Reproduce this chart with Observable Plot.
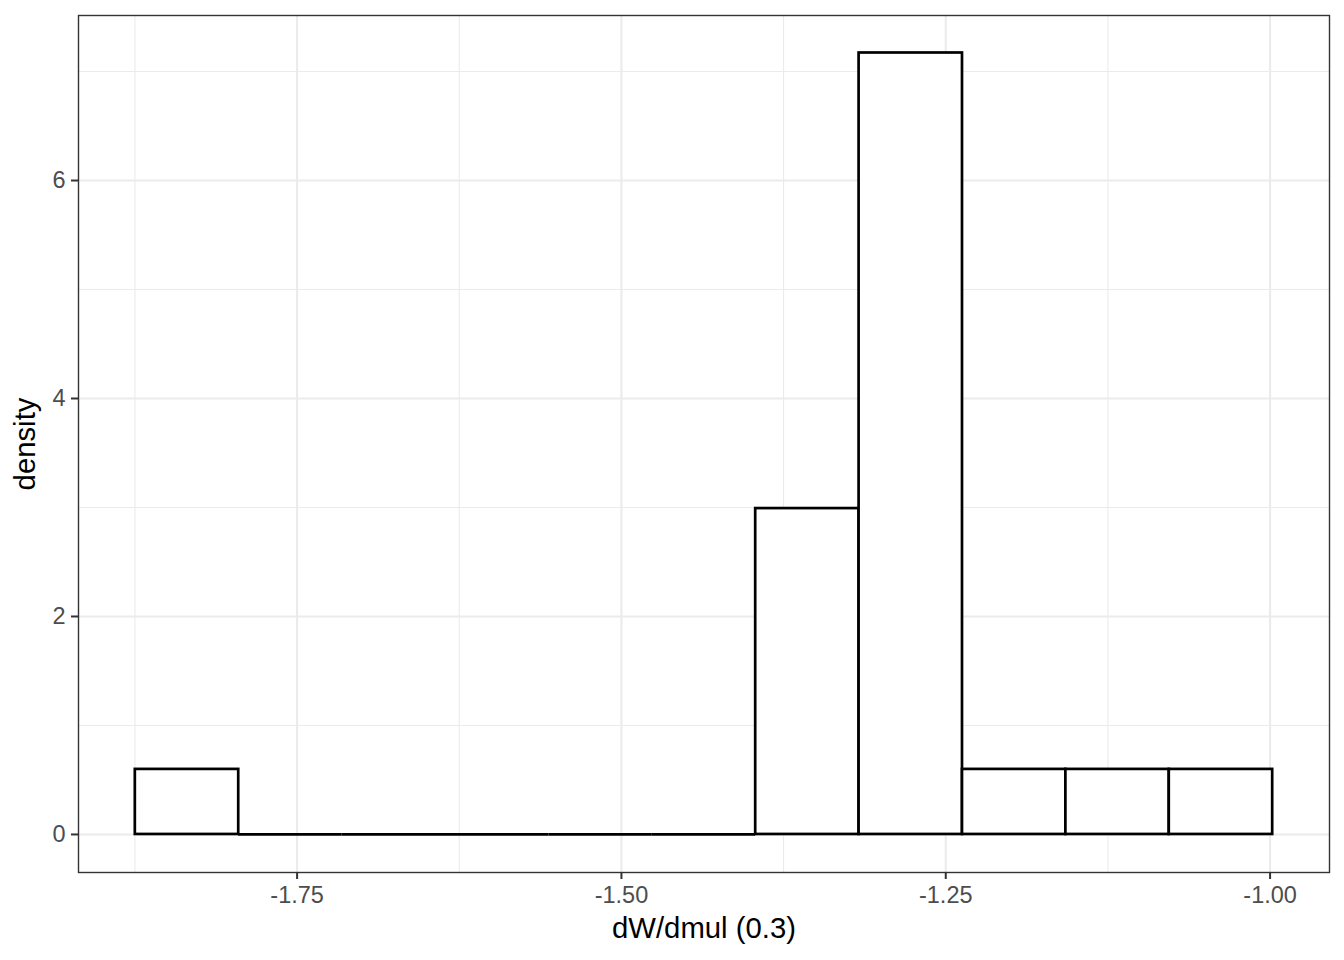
<!DOCTYPE html>
<html>
<head>
<meta charset="utf-8">
<script src="https://cdn.jsdelivr.net/npm/d3@7"></script>
<script src="https://cdn.jsdelivr.net/npm/@observablehq/plot@0.6"></script>
<style>
  html, body { margin: 0; padding: 0; background: #ffffff; }
  #chart { width: 1344px; height: 960px; }
</style>
</head>
<body>
<div id="chart"></div>
<script>
// ---- data ----
const binEdges = [-1.8747, -1.7950, -1.7153, -1.6356, -1.5559, -1.4762, -1.3965, -1.3168, -1.2371, -1.1574, -1.0777, -0.9980];
const binDensity = [0.597, 0, 0, 0, 0, 0, 2.99, 7.17, 0.597, 0.597, 0.597];
const xMajorTicks = [-1.75, -1.50, -1.25, -1.00];
const xMinorTicks = [-1.875, -1.625, -1.375, -1.125];
const yMajorTicks = [0, 2, 4, 6];
const yMinorTicks = [1, 3, 5, 7];
const xTitle = "dW/dmul (0.3)";
const yTitle = "density";

const bins = binDensity.map((d, i) => ({x1: binEdges[i], x2: binEdges[i + 1], density: d}));
const filledBins = bins.filter(b => b.density > 0);
const emptyBins = bins.filter(b => b.density === 0);

const font = "'Liberation Sans', Arial, Helvetica, sans-serif";

const chart = Plot.plot({
  width: 1344,
  height: 960,
  marginLeft: 78,
  marginRight: 15,
  marginTop: 15,
  marginBottom: 88,
  style: {fontFamily: font, background: "#ffffff", overflow: "visible"},
  x: {domain: [-1.9185, -0.9542]},
  y: {domain: [-0.349, 7.514]},
  marks: [
    Plot.ruleX(xMinorTicks, {stroke: "#ebebeb", strokeWidth: 1.1}),
    Plot.ruleY(yMinorTicks, {stroke: "#ebebeb", strokeWidth: 1.1}),
    Plot.ruleX(xMajorTicks, {stroke: "#ebebeb", strokeWidth: 2.1}),
    Plot.ruleY(yMajorTicks, {stroke: "#ebebeb", strokeWidth: 2.1}),
    Plot.ruleY(emptyBins, {x1: "x1", x2: "x2", y: 0, stroke: "#000000", strokeWidth: 2.7}),
    Plot.rect(filledBins, {x1: "x1", x2: "x2", y1: 0, y2: "density", fill: "#ffffff", stroke: "#000000", strokeWidth: 2.7, strokeLinejoin: "miter"}),
    Plot.frame({stroke: "#333333", strokeWidth: 1.4}),
    Plot.axisX(xMajorTicks, {anchor: "bottom", tickSize: 7, tickPadding: 7, tickFormat: d => d.toFixed(2), fontSize: 23.5, fill: "#4d4d4d", stroke: "#333333", strokeWidth: 2, label: null}),
    Plot.axisY(yMajorTicks, {anchor: "left", tickSize: 7, tickPadding: 6, tickFormat: d => String(d), fontSize: 23.5, fill: "#4d4d4d", stroke: "#333333", strokeWidth: 2, label: null}),
    Plot.text([xTitle], {frameAnchor: "bottom", dy: 65, lineAnchor: "bottom", fontSize: 29.3, fill: "#000000"}),
    Plot.text([yTitle], {frameAnchor: "left", dx: -44, rotate: -90, textAnchor: "middle", lineAnchor: "bottom", fontSize: 29.3, fill: "#000000"})
  ]
});
document.getElementById("chart").appendChild(chart);
</script>
</body>
</html>
